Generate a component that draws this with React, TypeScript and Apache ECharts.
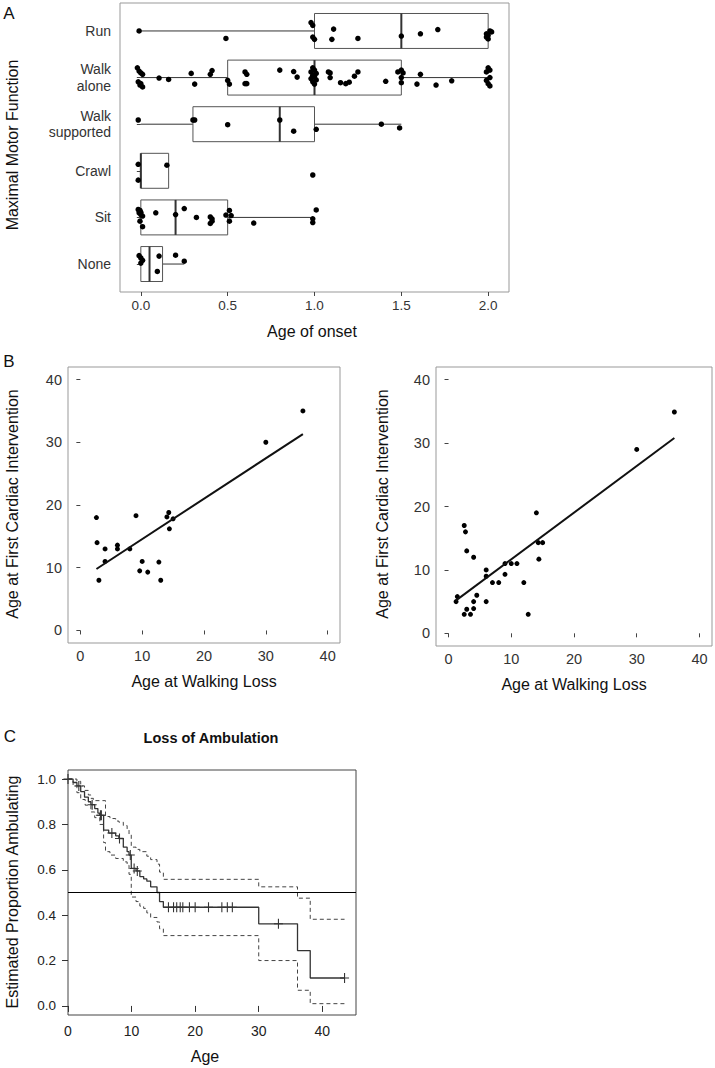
import React, { useEffect, useRef } from "react";
import * as echarts from "echarts";

// ---------- Panel A data ----------
const motorCategories = ["None", "Sit", "Crawl", "Walk\nsupported", "Walk\nalone", "Run"];
// [min, q1, median, q3, max] aligned with motorCategories
const boxStats = [
  [0, 0, 0.05, 0.125, 0.25],
  [0, 0, 0.2, 0.5, 1.0],
  [0, 0, 0, 0.16, 0.16],
  [0, 0.3, 0.8, 1.0, 1.5],
  [0, 0.5, 1.0, 1.5, 2.0],
  [0, 1.0, 1.5, 2.0, 2.0],
];
// [age of onset, vertical jitter]
const nonePts = [[-0.01, 0.18], [0.0, 0.13], [0.01, 0.08], [0.0, 0.02], [0.105, 0.17], [0.095, -0.16], [0.2, 0.19], [0.25, 0.06]];
const sitPts = [[-0.015, 0.17], [-0.005, 0.15], [0.0, 0.11], [-0.01, 0.1], [0.0, 0.06], [0.01, 0.03], [-0.005, -0.08], [0.01, -0.2], [0.086, 0.1], [0.2, 0.06], [0.25, 0.19], [0.32, 0], [0.4, 0.01], [0.41, -0.03], [0.41, -0.08], [0.4, -0.13], [0.49, 0.05], [0.51, 0.15], [0.52, 0.04], [0.51, -0.08], [0.65, -0.12], [0.99, -0.03], [0.99, -0.11], [1.01, 0.16]];
const crawlPts = [[-0.015, 0.14], [-0.015, -0.2], [0.15, 0.12], [0.99, -0.09]];
const walkSupportedPts = [[-0.015, 0.09], [0.3, 0.09], [0.31, 0.09], [0.5, -0.01], [0.8, 0.09], [0.88, -0.15], [1.01, -0.11], [1.385, 0], [1.49, -0.08]];
const walkAlonePts = [[-0.02, 0.21], [-0.01, 0.14], [0.0, 0.1], [0.01, 0.07], [-0.015, -0.09], [0.0, -0.13], [-0.005, -0.16], [0.01, -0.2], [0.105, -0.01], [0.16, -0.04], [0.29, 0.09], [0.31, -0.14], [0.4, 0.07], [0.41, 0.15], [0.5, -0.06], [0.51, -0.14], [0.6, 0.12], [0.61, 0.07], [0.6, -0.13], [0.61, -0.13], [0.8, 0.16], [0.88, 0.13], [0.9, 0.01], [0.99, 0.21], [1.0, 0.16], [0.98, 0.12], [1.01, 0.09], [0.99, 0.05], [1.0, 0.02], [0.98, -0.02], [1.01, -0.05], [0.99, -0.09], [1.0, -0.14], [1.08, 0.12], [1.09, 0.1], [1.09, 0], [1.15, -0.11], [1.18, -0.13], [1.2, -0.1], [1.23, 0.03], [1.25, 0.12], [1.41, -0.08], [1.48, 0.12], [1.5, 0.16], [1.51, 0.1], [1.5, 0], [1.5, -0.11], [1.61, 0.07], [1.59, -0.14], [1.7, -0.16], [1.79, -0.07], [2.0, 0.21], [2.01, 0.16], [1.99, 0.12], [2.01, 0.0], [1.99, -0.06], [2.0, -0.13], [2.01, -0.18]];
const runPts = [[-0.01, 0], [0.49, -0.16], [0.98, 0.18], [0.99, 0.12], [0.99, -0.13], [1.0, -0.18], [1.11, 0.04], [1.1, -0.18], [1.25, -0.16], [1.5, -0.11], [1.61, -0.06], [1.71, 0.03], [2.01, 0.0], [2.02, -0.02], [1.99, -0.06], [2.0, -0.09], [1.99, -0.13], [2.0, -0.17]];
const motorPoints = [nonePts, sitPts, crawlPts, walkSupportedPts, walkAlonePts, runPts];
const onsetTicks = [0, 0.5, 1, 1.5, 2];
const categoryTicks = [1, 2, 3, 4, 5, 6];

// ---------- Panel B data ----------
const leftWalkLoss = [2.6, 2.7, 3, 4, 4, 6, 6, 8, 9, 9.6, 10, 10.9, 12.7, 13, 14, 14.3, 14.4, 15, 30, 36];
const leftCardiac = [18, 14, 8, 13, 11, 13.6, 13, 13, 18.3, 9.5, 11, 9.3, 10.9, 8, 18.1, 18.8, 16.2, 17.8, 30, 35];
const leftFit = [[2.6, 9.8], [36, 31.3]];
const rightWalkLoss = [1.2, 1.4, 2.5, 2.7, 2.5, 2.9, 2.9, 3.5, 4, 4, 4, 4.5, 6, 6, 6, 7, 8, 9, 9, 10, 10.9, 12, 12.7, 14, 14.3, 14.4, 15, 30, 36];
const rightCardiac = [5, 5.8, 17, 16, 3, 3.8, 13, 3, 12, 5, 3.9, 6, 10, 9, 5, 8, 8, 9.3, 11, 11, 11, 8, 3, 19, 14.3, 11.7, 14.3, 29, 34.9];
const rightFit = [[1.2, 5.2], [36, 30.8]];
const ageTicks = [0, 10, 20, 30, 40];

// ---------- Panel C data ----------
const kmSurvival = [[0, 1.0], [0.8, 0.985], [1.4, 0.97], [2.0, 0.945], [2.6, 0.92], [3.2, 0.9], [3.6, 0.887], [4.2, 0.87], [4.7, 0.85], [5.0, 0.84], [5.6, 0.775], [6.4, 0.762], [7.5, 0.75], [8.0, 0.738], [8.7, 0.7], [9.3, 0.68], [9.6, 0.665], [9.95, 0.606], [10.7, 0.595], [11.3, 0.57], [11.9, 0.56], [12.4, 0.55], [13.0, 0.525], [14.0, 0.5], [14.4, 0.46], [15.0, 0.435], [30.0, 0.362], [36.1, 0.244], [38.1, 0.123], [43.5, 0.123]];
const kmUpper = [[0, 1.0], [1.4, 0.99], [2.0, 0.97], [2.6, 0.95], [3.2, 0.93], [3.6, 0.915], [4.0, 0.905], [5.9, 0.835], [6.6, 0.826], [7.5, 0.815], [8.0, 0.81], [8.7, 0.795], [9.3, 0.78], [9.6, 0.755], [9.95, 0.7], [10.7, 0.69], [11.3, 0.68], [12.4, 0.66], [13.0, 0.645], [14.0, 0.625], [14.4, 0.59], [15.0, 0.558], [30.0, 0.525], [36.1, 0.475], [38.1, 0.382], [43.5, 0.382]];
const kmLower = [[0, 1.0], [0.8, 0.97], [1.4, 0.94], [2.0, 0.91], [2.7, 0.885], [3.6, 0.855], [4.2, 0.83], [5.0, 0.8], [5.6, 0.72], [5.9, 0.68], [6.6, 0.665], [7.5, 0.65], [8.7, 0.635], [9.3, 0.62], [9.6, 0.58], [9.95, 0.48], [10.7, 0.46], [11.3, 0.44], [11.9, 0.43], [12.4, 0.41], [13.0, 0.39], [14.0, 0.37], [14.4, 0.34], [15.0, 0.31], [30.0, 0.2], [36.1, 0.069], [38.1, 0.01], [43.5, 0.01]];
const kmCensored = [[0, 1.0], [1.7, 0.97], [3.8, 0.887], [5.1, 0.84], [5.25, 0.84], [6.9, 0.762], [8.1, 0.738], [9.8, 0.665], [10.4, 0.606], [10.9, 0.595], [15.8, 0.435], [16.6, 0.435], [17.1, 0.435], [17.65, 0.435], [18.06, 0.435], [19.1, 0.435], [20.0, 0.435], [22.1, 0.435], [24.2, 0.435], [25.06, 0.435], [25.85, 0.435], [33.1, 0.362], [43.5, 0.123]];
const medianLine = 0.5;
const propTicks = [0, 0.2, 0.4, 0.6, 0.8, 1.0];

const FONT = "'Liberation Sans', Arial, Helvetica, sans-serif";

function axisText(size: number, color = "#333") {
  return { fontSize: size, color, fontFamily: FONT };
}

export default function App() {
  const ref = useRef<HTMLDivElement>(null);

  useEffect(() => {
    if (!ref.current) return;
    const chart = echarts.init(ref.current, undefined, { renderer: "svg" });

    const boxData = boxStats.map((s, i) => [i + 1, ...s]);
    const jitterData: number[][] = [];
    motorPoints.forEach((pts, i) => {
      pts.forEach((p) => jitterData.push([p[0], i + 1 + p[1]]));
    });

    const ggGrid = { show: true, borderColor: "#999", borderWidth: 1, backgroundColor: "transparent" };
    const dot = { color: "#000", opacity: 1 };

    const option: any = {
      animation: false,
      textStyle: { fontFamily: FONT },
      grid: [
        { left: 120, top: 3, width: 389, height: 289, ...ggGrid },
        { left: 68, top: 367, width: 272, height: 276, ...ggGrid },
        { left: 436, top: 367, width: 276, height: 279, ...ggGrid },
        { left: 68, top: 770, width: 288, height: 245, show: true, borderColor: "#444", borderWidth: 1, backgroundColor: "transparent" },
      ],
      xAxis: [
        {
          gridIndex: 0, type: "value", min: -0.12, max: 2.12,
          axisLine: { show: false }, splitLine: { show: false },
          axisTick: { show: true, customValues: onsetTicks, length: 4, lineStyle: { color: "#444" } },
          axisLabel: { customValues: onsetTicks, formatter: (v: number) => v.toFixed(1), margin: 6, ...axisText(13.5) },
        },
        {
          gridIndex: 1, type: "value", min: -2, max: 42,
          axisLine: { show: false }, splitLine: { show: false },
          axisTick: { show: true, customValues: ageTicks, length: 4, lineStyle: { color: "#444" } },
          axisLabel: { customValues: ageTicks, margin: 5, ...axisText(14.5) },
        },
        {
          gridIndex: 2, type: "value", min: -2, max: 42,
          axisLine: { show: false }, splitLine: { show: false },
          axisTick: { show: true, customValues: ageTicks, length: 4, lineStyle: { color: "#444" } },
          axisLabel: { customValues: ageTicks, margin: 5, ...axisText(14.5) },
        },
        {
          gridIndex: 3, type: "value", min: 0, max: 45.3,
          axisLine: { show: false }, splitLine: { show: false },
          axisTick: { show: true, customValues: ageTicks, length: 6, lineStyle: { color: "#333" } },
          axisLabel: { customValues: ageTicks, margin: 9, ...axisText(14, "#222") },
        },
      ],
      yAxis: [
        {
          gridIndex: 0, type: "value", min: 0.4, max: 6.6,
          axisLine: { show: false }, splitLine: { show: false },
          axisTick: { show: true, customValues: categoryTicks, length: 4, lineStyle: { color: "#444" } },
          axisLabel: {
            customValues: categoryTicks,
            formatter: (v: number) => motorCategories[Math.round(v) - 1],
            margin: 9, align: "right", lineHeight: 16.5, ...axisText(14),
          },
        },
        {
          gridIndex: 1, type: "value", min: -2, max: 42,
          axisLine: { show: false }, splitLine: { show: false },
          axisTick: { show: true, customValues: ageTicks, length: 4, lineStyle: { color: "#444" } },
          axisLabel: { customValues: ageTicks, margin: 6, ...axisText(14.5) },
        },
        {
          gridIndex: 2, type: "value", min: -2, max: 42,
          axisLine: { show: false }, splitLine: { show: false },
          axisTick: { show: true, customValues: ageTicks, length: 4, lineStyle: { color: "#444" } },
          axisLabel: { customValues: ageTicks, margin: 6, ...axisText(14.5) },
        },
        {
          gridIndex: 3, type: "value", min: -0.04, max: 1.04,
          axisLine: { show: false }, splitLine: { show: false },
          axisTick: { show: true, customValues: propTicks, length: 6, lineStyle: { color: "#333" } },
          axisLabel: { customValues: propTicks, formatter: (v: number) => v.toFixed(1), margin: 12, ...axisText(13.5, "#222") },
        },
      ],
      series: [
        {
          type: "custom", xAxisIndex: 0, yAxisIndex: 0, data: boxData,
          encode: { x: [1, 2, 3, 4, 5], y: 0 },
          renderItem: (_params: any, api: any) => {
            const cat = api.value(0);
            const pMin = api.coord([api.value(1), cat]);
            const pQ1 = api.coord([api.value(2), cat]);
            const pMd = api.coord([api.value(3), cat]);
            const pQ3 = api.coord([api.value(4), cat]);
            const pMax = api.coord([api.value(5), cat]);
            const half = api.size([0, 0.375])[1];
            const cy = pMin[1];
            return {
              type: "group",
              children: [
                { type: "line", shape: { x1: pMin[0], y1: cy, x2: pQ1[0], y2: cy }, style: { stroke: "#333", lineWidth: 1 } },
                { type: "line", shape: { x1: pQ3[0], y1: cy, x2: pMax[0], y2: cy }, style: { stroke: "#333", lineWidth: 1 } },
                { type: "rect", shape: { x: pQ1[0], y: cy - half, width: pQ3[0] - pQ1[0], height: 2 * half }, style: { stroke: "#555", lineWidth: 1, fill: "#fff" } },
                { type: "line", shape: { x1: pMd[0], y1: cy - half, x2: pMd[0], y2: cy + half }, style: { stroke: "#333", lineWidth: 2 } },
              ],
            };
          },
        },
        {
          type: "scatter", xAxisIndex: 0, yAxisIndex: 0, data: jitterData,
          symbolSize: 5.5, itemStyle: dot,
        },
        {
          type: "line", xAxisIndex: 1, yAxisIndex: 1, data: leftFit, showSymbol: false,
          lineStyle: { color: "#111", width: 2 },
        },
        {
          type: "scatter", xAxisIndex: 1, yAxisIndex: 1,
          data: leftWalkLoss.map((x, i) => [x, leftCardiac[i]]),
          symbolSize: 5, itemStyle: dot,
        },
        {
          type: "line", xAxisIndex: 2, yAxisIndex: 2, data: rightFit, showSymbol: false,
          lineStyle: { color: "#111", width: 2 },
        },
        {
          type: "scatter", xAxisIndex: 2, yAxisIndex: 2,
          data: rightWalkLoss.map((x, i) => [x, rightCardiac[i]]),
          symbolSize: 5, itemStyle: dot,
        },
        {
          type: "line", xAxisIndex: 3, yAxisIndex: 3, data: kmUpper, step: "end", showSymbol: false,
          lineStyle: { color: "#444", width: 1, type: [4, 3] },
        },
        {
          type: "line", xAxisIndex: 3, yAxisIndex: 3, data: kmLower, step: "end", showSymbol: false,
          lineStyle: { color: "#444", width: 1, type: [4, 3] },
        },
        {
          type: "line", xAxisIndex: 3, yAxisIndex: 3, data: kmSurvival, step: "end", showSymbol: false,
          lineStyle: { color: "#333", width: 1.3 },
          markLine: {
            silent: true, symbol: "none", label: { show: false },
            lineStyle: { color: "#000", type: "solid", width: 1 },
            data: [{ yAxis: medianLine }],
          },
        },
        {
          type: "scatter", xAxisIndex: 3, yAxisIndex: 3, data: kmCensored,
          symbol: "path://M4.4,0 h1.2 v10 h-1.2 z M0,4.5 h10 v1 h-10 z",
          symbolSize: [9, 10], itemStyle: { color: "#333", opacity: 1 },
        },
      ],
      graphic: [
        { type: "text", x: 9, y: 13, style: { text: "A", fontSize: 17, fontFamily: FONT, fill: "#111", textAlign: "center", textVerticalAlign: "middle" } },
        { type: "text", x: 9, y: 361, style: { text: "B", fontSize: 17, fontFamily: FONT, fill: "#111", textAlign: "center", textVerticalAlign: "middle" } },
        { type: "text", x: 10, y: 736, style: { text: "C", fontSize: 17, fontFamily: FONT, fill: "#111", textAlign: "center", textVerticalAlign: "middle" } },
        { type: "text", x: 12, y: 145, rotation: Math.PI / 2, style: { text: "Maximal Motor Function", fontSize: 16, fontFamily: FONT, fill: "#111", textAlign: "center", textVerticalAlign: "middle" } },
        { type: "text", x: 312, y: 331, style: { text: "Age of onset", fontSize: 16, fontFamily: FONT, fill: "#111", textAlign: "center", textVerticalAlign: "middle" } },
        { type: "text", x: 12, y: 504, rotation: Math.PI / 2, style: { text: "Age at First Cardiac Intervention", fontSize: 16, fontFamily: FONT, fill: "#111", textAlign: "center", textVerticalAlign: "middle" } },
        { type: "text", x: 204, y: 681, style: { text: "Age at Walking Loss", fontSize: 16, fontFamily: FONT, fill: "#111", textAlign: "center", textVerticalAlign: "middle" } },
        { type: "text", x: 382, y: 504, rotation: Math.PI / 2, style: { text: "Age at First Cardiac Intervention", fontSize: 16, fontFamily: FONT, fill: "#111", textAlign: "center", textVerticalAlign: "middle" } },
        { type: "text", x: 574, y: 684, style: { text: "Age at Walking Loss", fontSize: 16, fontFamily: FONT, fill: "#111", textAlign: "center", textVerticalAlign: "middle" } },
        { type: "text", x: 211, y: 738, style: { text: "Loss of Ambulation", fontSize: 14.5, fontWeight: "bold", fontFamily: FONT, fill: "#111", textAlign: "center", textVerticalAlign: "middle" } },
        { type: "text", x: 12, y: 892, rotation: Math.PI / 2, style: { text: "Estimated Proportion Ambulating", fontSize: 16, fontFamily: FONT, fill: "#111", textAlign: "center", textVerticalAlign: "middle" } },
        { type: "text", x: 205, y: 1056, style: { text: "Age", fontSize: 16, fontFamily: FONT, fill: "#111", textAlign: "center", textVerticalAlign: "middle" } },
      ],
    };

    chart.setOption(option);
    return () => chart.dispose();
  }, []);

  return (
    <div
      ref={ref}
      style={{ position: "absolute", left: 0, top: 0, width: 715, height: 1068, background: "#fff" }}
    />
  );
}
